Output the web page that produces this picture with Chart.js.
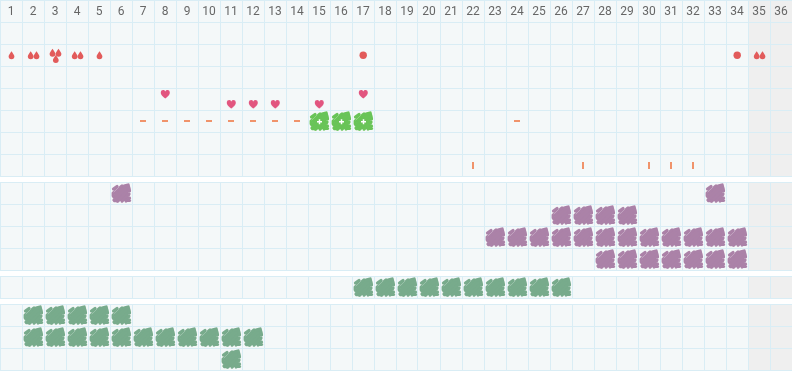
<!DOCTYPE html>
<html>
<head>
<meta charset="utf-8">
<style>
  html, body { margin: 0; padding: 0; background: #fff; overflow: hidden; }
  .section { position: absolute; left: 0; width: 792px; }
</style>
<script src="https://cdn.jsdelivr.net/npm/chart.js@4"></script>
</head>
<body>
<div class="section" style="top:0;height:177px"><canvas id="vitals"></canvas></div>
<div class="section" style="top:182px;height:89px"><canvas id="purple"></canvas></div>
<div class="section" style="top:276px;height:23px"><canvas id="greenTop"></canvas></div>
<div class="section" style="top:304px;height:67px"><canvas id="greenBottom"></canvas></div>
<script>
const days = [];
for (let d = 1; d <= 36; d++) days.push(String(d));
const shadedDays = ["35", "36"];

// bleeding row: how many drops per day
const dropDays = ["1", "2", "3", "4", "5", "35"];
const dropCounts = [1, 2, 3, 2, 1, 2];
const dotDays = ["17", "34"];

const heartDays = ["8", "11", "12", "13", "15", "17"];
const heartLevels = [3.27, 3.73, 3.73, 3.73, 3.73, 3.27];

const dashDays = ["7", "8", "9", "10", "11", "12", "13", "14", "24"];
const plusDays = ["15", "16", "17"];
const tickDays = ["22", "27", "30", "31", "32"];

const purpleRow0 = ["6", "33"];
const purpleRow1 = ["26", "27", "28", "29"];
const purpleRow2 = ["23", "24", "25", "26", "27", "28", "29", "30", "31", "32", "33", "34"];
const purpleRow3 = ["28", "29", "30", "31", "32", "33", "34"];

const greenRow = ["17", "18", "19", "20", "21", "22", "23", "24", "25", "26"];

const greenLowRow0 = ["2", "3", "4", "5", "6"];
const greenLowRow1 = ["2", "3", "4", "5", "6", "7", "8", "9", "10", "11", "12"];
const greenLowRow2 = ["11"];

const gridColor = "#d9edf5";
const cellColor = "#f4f8f9";
const shadeColor = "#efefef";

function sprite(w, h, draw) {
    const c = document.createElement("canvas");
    c.width = w;
    c.height = h;
    draw(c.getContext("2d"));
    return c;
}

function drop(g, x, y) {
    g.beginPath();
    g.moveTo(x, y - 3.7);
    g.bezierCurveTo(x + 1, y - 2, x + 2.9, y, x + 2.9, y + 1.3);
    g.arc(x, y + 1.3, 2.9, 0, Math.PI);
    g.bezierCurveTo(x - 2.9, y, x - 1, y - 2, x, y - 3.7);
    g.fill();
}

const dropColor = "#e25b5b";
const dropSprites = {
    1: sprite(22, 22, g => { g.fillStyle = dropColor; drop(g, 11.5, 11); }),
    2: sprite(22, 22, g => { g.fillStyle = dropColor; drop(g, 8.7, 11); drop(g, 14.5, 11); }),
    3: sprite(22, 22, g => { g.fillStyle = dropColor; drop(g, 8.5, 8.5); drop(g, 14.5, 8.5); drop(g, 11.8, 14.7); })
};
const dotSprite = sprite(22, 22, g => {
    g.fillStyle = dropColor;
    g.beginPath();
    g.arc(11.2, 11.3, 3.7, 0, Math.PI * 2);
    g.fill();
});
const heartSprite = sprite(22, 22, g => {
    g.fillStyle = "#e2557f";
    g.beginPath();
    g.moveTo(11.3, 15.5);
    g.bezierCurveTo(7.3, 12.5, 6.8, 11, 6.8, 9.5);
    g.bezierCurveTo(6.8, 6.5, 10.3, 6.3, 11.3, 8.5);
    g.bezierCurveTo(12.3, 6.3, 15.8, 6.5, 15.8, 9.5);
    g.bezierCurveTo(15.8, 11, 15.3, 12.5, 11.3, 15.5);
    g.fill();
});
const dashSprite = sprite(22, 22, g => {
    g.fillStyle = "#f0936b";
    g.fillRect(8, 10, 6, 2);
});
const tickSprite = sprite(22, 22, g => {
    g.fillStyle = "#f0936b";
    g.fillRect(10, 8, 2, 7);
});

// marker looks like a crayon scribble, so build it from short strokes over a square
const scribble = [
    [4.5, 8, 8, 5.5], [4.5, 12, 13, 5], [5, 16, 18, 4.5], [5.5, 19.5, 19.5, 5.5], [15, 5, 19.2, 4],
    [9, 20, 19.5, 9], [13, 20, 20, 13], [17, 20, 20.5, 17],
    [5, 19, 8, 20], [18.5, 19.5, 20.5, 19.5], [20, 7, 20.5, 10], [4.2, 12, 4.2, 15]
];

function blob(color, scratch, plus) {
    return sprite(24, 24, g => {
        g.fillStyle = color;
        g.fillRect(5.5, 6, 14, 14);
        g.strokeStyle = color;
        g.lineWidth = 3.2;
        g.lineCap = "round";
        scribble.forEach(s => {
            g.beginPath();
            g.moveTo(s[0], s[1]);
            g.lineTo(s[2], s[3]);
            g.stroke();
        });
        g.strokeStyle = scratch;
        g.lineWidth = 0.8;
        g.beginPath();
        g.moveTo(5, 11);
        g.lineTo(10, 6);
        g.stroke();
        if (plus) {
            g.fillStyle = "#fff";
            g.fillRect(10, 12, 5, 1.5);
            g.fillRect(11.75, 10.25, 1.5, 5);
        }
    });
}
const purpleBlob = blob("#ab82a8", "#c6a9c4", false);
const greenBlob = blob("#78ab8c", "#a0c6ae", false);
const plusBlob = blob("#69c458", "#94d888", true);

// grey weekend columns go under the grid
const cellBackground = {
    id: "cellBackground",
    beforeDraw(chart) {
        const { ctx, chartArea, scales } = chart;
        const top = chart.options.plugins.cellBackground.fromTop ? 0 : chartArea.top;
        ctx.save();
        ctx.fillStyle = cellColor;
        ctx.fillRect(0, top, chart.width, chartArea.bottom - top);
        ctx.fillStyle = shadeColor;
        shadedDays.forEach(d => {
            const i = days.indexOf(d);
            const left = scales.x.getPixelForValue(i) - 11;
            ctx.fillRect(left, top, 22, chartArea.bottom - top);
        });
        ctx.restore();
    }
};

function markSet(xs, ys, style) {
    return {
        data: xs.map((x, i) => ({ x: x, y: Array.isArray(ys) ? ys[i] : ys })),
        pointStyle: style,
        pointRadius: 11,
        pointHoverRadius: 11,
        showLine: false,
        clip: false
    };
}

function makeSection(id, rows, datasets, withHeader) {
    const canvas = document.getElementById(id);
    const header = withHeader ? 22 : 0;
    canvas.width = 792;
    canvas.height = header + rows * 22 + 1;
    return new Chart(canvas, {
        type: "line",
        data: { labels: days, datasets: datasets },
        options: {
            responsive: false,
            animation: false,
            events: [],
            layout: { autoPadding: false, padding: { left: 0, right: 0, top: 0, bottom: 1 } },
            plugins: {
                legend: { display: false },
                tooltip: { enabled: false },
                cellBackground: { fromTop: withHeader }
            },
            scales: {
                x: {
                    type: "category",
                    position: "top",
                    offset: true,
                    afterFit: axis => { axis.height = header; },
                    border: { display: false },
                    grid: {
                        offset: true,
                        color: gridColor,
                        lineWidth: 1,
                        drawTicks: withHeader,
                        tickLength: 22
                    },
                    ticks: {
                        display: withHeader,
                        autoSkip: false,
                        maxRotation: 0,
                        padding: -19,
                        color: "#666",
                        font: { family: "Roboto", size: 12 }
                    }
                },
                y: {
                    type: "linear",
                    reverse: true,
                    min: 0,
                    max: rows,
                    afterFit: axis => { axis.width = 0; },
                    border: { display: false },
                    grid: { color: gridColor, lineWidth: 1, drawTicks: false },
                    ticks: { display: false, stepSize: 1 }
                }
            }
        },
        plugins: [cellBackground, {
            id: "headerTopLine",
            afterDraw(chart) {
                if (!withHeader) return;
                chart.ctx.fillStyle = gridColor;
                chart.ctx.fillRect(0, 0, chart.width, 1);
            }
        }]
    });
}

makeSection("vitals", 7, [
    markSet(dropDays, 1.5, (c) => dropSprites[dropCounts[c.dataIndex]]),
    markSet(dotDays, 1.5, dotSprite),
    markSet(heartDays, heartLevels, heartSprite),
    markSet(dashDays, 4.5, dashSprite),
    markSet(plusDays, 4.5, plusBlob),
    markSet(tickDays, 6.5, tickSprite)
], true);

makeSection("purple", 4, [
    markSet(purpleRow0, 0.5, purpleBlob),
    markSet(purpleRow1, 1.5, purpleBlob),
    markSet(purpleRow2, 2.5, purpleBlob),
    markSet(purpleRow3, 3.5, purpleBlob)
], false);

makeSection("greenTop", 1, [markSet(greenRow, 0.5, greenBlob)], false);

makeSection("greenBottom", 3, [
    markSet(greenLowRow0, 0.5, greenBlob),
    markSet(greenLowRow1, 1.5, greenBlob),
    markSet(greenLowRow2, 2.5, greenBlob)
], false);
</script>
</body>
</html>
